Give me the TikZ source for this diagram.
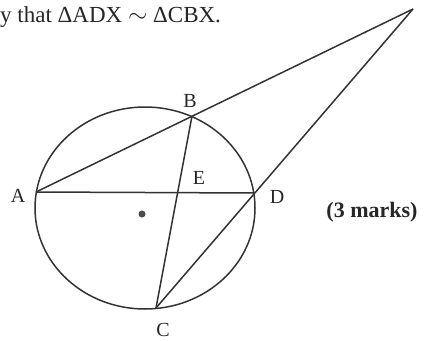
\documentclass[tikz,border=0pt]{standalone}
\usepackage{fontspec}
\setmainfont{Liberation Serif}
\usepackage{tikz}

\begin{document}
\begin{tikzpicture}[
      x=1pt, y=-1pt,
      font=\fontsize{20}{24}\selectfont,
      edge/.style={draw=black!80, line width=1.5pt},
      lbl/.style={inner sep=0pt, text=black!85},
      dotc/.style={circle, fill=black!70, inner sep=0pt, minimum size=7pt}
    ]
    \useasboundingbox (0,0) rectangle (428,340);

    % --- Points on the circle and the outside point X ------------------------
    \coordinate (A) at (36,192);
    \coordinate (B) at (192,116);
    \coordinate (C) at (156,308);
    \coordinate (X) at (413,9);
    \coordinate (D) at (254.8,193);
    \coordinate (E) at (intersection of A--D and B--C);

    \draw[edge] (145,208) ellipse [x radius=110, y radius=101];
    \node[dotc] (O) at (142,214) {};

    \draw[edge] (A) -- (X);
    \draw[edge] (C) -- (X);
    \draw[edge] (A) -- (D);
    \draw[edge] (B) -- (C);

    \node[lbl] (lA) at (18,196) {A};
    \node[lbl] (lB) at (190,101) {B};
    \node[lbl] (lE) at (199,178) {E};
    \node[lbl] (lD) at (277,197) {D};
    \node[lbl] (lC) at (163,330) {C};

    % --- Question text and marks ---------------------------------------------
    \node[lbl, anchor=base west, font=\fontsize{23}{27}\selectfont]
      (qtext) at (0,22) {y that ΔADX \(\sim\) ΔCBX.};
    \node[lbl, font=\fontsize{22}{26}\selectfont\bfseries]
      (marks) at (372,212) {(3 marks)};
  \end{tikzpicture}
\end{document}
